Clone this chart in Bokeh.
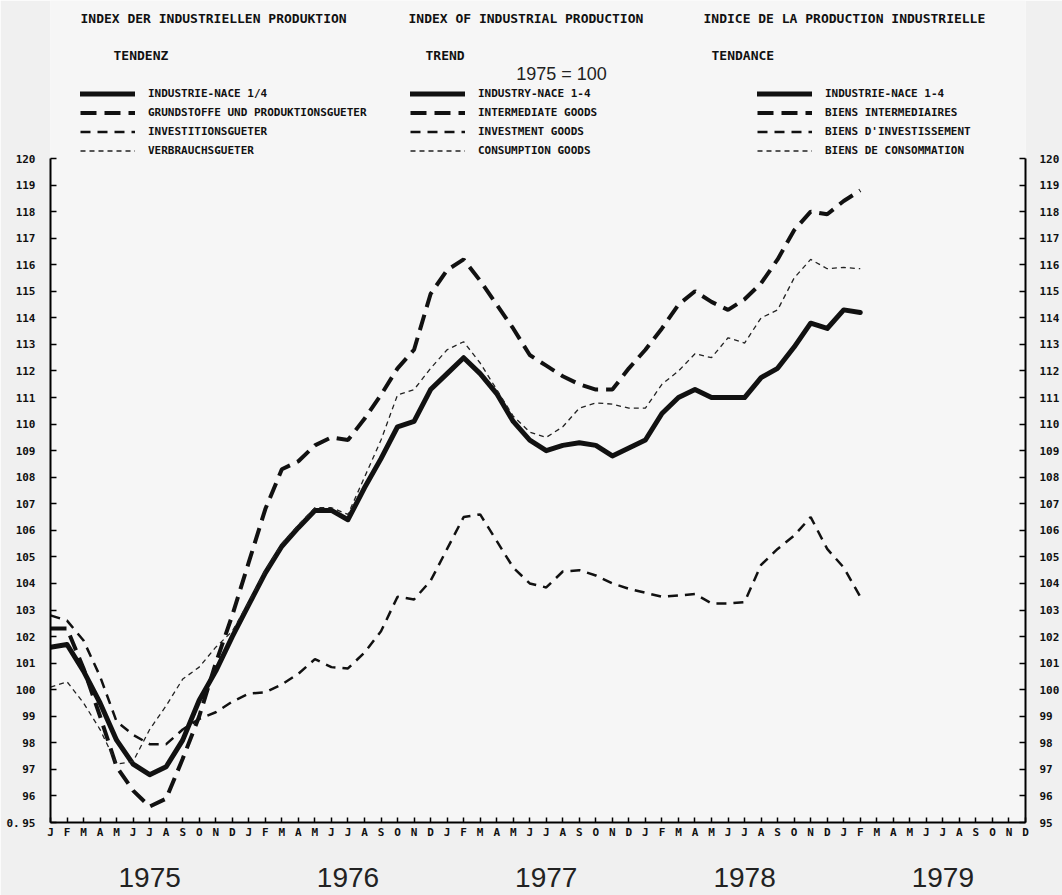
from bokeh.plotting import figure
from bokeh.models import FixedTicker, LinearAxis, Range1d, Legend, LegendItem, Label
from bokeh.embed import file_html
from bokeh.resources import INLINE

# ---------------- data ----------------
months = ["J", "F", "M", "A", "M", "J", "J", "A", "S", "O", "N", "D"]
years = ["1975", "1976", "1977", "1978", "1979"]
y_ticks = list(range(95, 121))

# monthly trend indices, Jan 1975 .. Feb 1979 (1975 = 100)
total = [101.6, 101.7, 100.7, 99.5, 98.1, 97.2, 96.8, 97.1, 98.1, 99.6, 100.7, 102.0,
         103.2, 104.4, 105.4, 106.1, 106.75, 106.75, 106.4, 107.6, 108.7, 109.9, 110.1, 111.3,
         111.9, 112.5, 111.9, 111.15, 110.1, 109.4, 109.0, 109.2, 109.3, 109.2, 108.8, 109.1,
         109.4, 110.4, 111.0, 111.3, 111.0, 111.0, 111.0, 111.75, 112.1, 112.9, 113.8, 113.6,
         114.3, 114.2]
intermediate = [102.3, 102.3, 100.8, 99.0, 97.1, 96.2, 95.6, 95.9, 97.4, 99.0, 101.0, 102.8,
                104.8, 106.8, 108.3, 108.6, 109.2, 109.5, 109.4, 110.2, 111.1, 112.1, 112.8, 114.9,
                115.8, 116.2, 115.4, 114.5, 113.6, 112.6, 112.2, 111.8, 111.5, 111.3, 111.3, 112.1,
                112.8, 113.6, 114.5, 115.0, 114.6, 114.3, 114.7, 115.3, 116.2, 117.3, 118.0, 117.9,
                118.4, 118.8]
investment = [102.8, 102.6, 101.85, 100.5, 98.8, 98.3, 97.95, 97.95, 98.5, 98.9, 99.15, 99.55,
              99.85, 99.9, 100.2, 100.6, 101.15, 100.85, 100.8, 101.4, 102.2, 103.5, 103.4, 104.1,
              105.3, 106.5, 106.6, 105.6, 104.6, 104.0, 103.85, 104.45, 104.5, 104.3, 104.0, 103.8,
              103.65, 103.5, 103.55, 103.6, 103.25, 103.25, 103.3, 104.7, 105.3, 105.8, 106.5, 105.3,
              104.6, 103.5]
consumption = [100.1, 100.3, 99.5, 98.5, 97.2, 97.3, 98.5, 99.4, 100.4, 100.85, 101.6, 102.2,
               103.3, 104.5, 105.5, 106.2, 106.85, 106.85, 106.6, 108.0, 109.4, 111.1, 111.3, 112.1,
               112.8, 113.1, 112.3, 111.3, 110.3, 109.7, 109.5, 109.9, 110.6, 110.8, 110.75, 110.6,
               110.6, 111.5, 112.0, 112.65, 112.5, 113.25, 113.05, 114.0, 114.3, 115.5, 116.2, 115.85,
               115.9, 115.85]
x = list(range(len(total)))

labels_de = ["INDUSTRIE-NACE 1/4", "GRUNDSTOFFE UND PRODUKTIONSGUETER",
             "INVESTITIONSGUETER", "VERBRAUCHSGUETER"]
labels_en = ["INDUSTRY-NACE 1-4", "INTERMEDIATE GOODS", "INVESTMENT GOODS", "CONSUMPTION GOODS"]
labels_fr = ["INDUSTRIE-NACE 1-4", "BIENS INTERMEDIAIRES", "BIENS D'INVESTISSEMENT",
             "BIENS DE CONSOMMATION"]

# ---------------- figure ----------------
W, H = 1062, 895
FRAME_L, FRAME_R, FRAME_B = 50, 37, 73
frame_h = H - FRAME_B
px_per_unit = 26.56
n_months = len(months) * len(years)

p = figure(width=W, height=H, output_backend="svg", toolbar_location=None,
           x_range=Range1d(0, n_months - 1),
           y_range=Range1d(95, 95 + frame_h / px_per_unit),
           x_axis_type=None, y_axis_type=None,
           min_border_left=FRAME_L, min_border_right=FRAME_R,
           min_border_top=0, min_border_bottom=FRAME_B)
p.outline_line_color = None
p.background_fill_color = "#f6f6f6"
p.border_fill_color = "#f0f0f0"

MONO = "DejaVu Sans Mono"

# bottom month axis
xax = LinearAxis(ticker=FixedTicker(ticks=list(range(n_months))),
                 major_label_overrides={i: months[i % 12] for i in range(n_months)},
                 bounds=(0, n_months - 1))
xax.major_tick_in = 5
xax.major_tick_out = 0
xax.minor_tick_line_color = None
xax.axis_line_width = 2
xax.major_tick_line_width = 1.5
xax.major_label_standoff = 3
xax.major_label_text_font = MONO
xax.major_label_text_font_style = "bold"
xax.major_label_text_font_size = "11px"
xax.major_label_text_color = "#111111"
p.add_layout(xax, "below")

# year axis under the months (one label per year, centred on July)
yax = LinearAxis(ticker=FixedTicker(ticks=[6 + 12 * k for k in range(len(years))]),
                 major_label_overrides={6 + 12 * k: yr for k, yr in enumerate(years)})
yax.axis_line_color = None
yax.major_tick_line_color = None
yax.minor_tick_line_color = None
yax.major_label_standoff = 20
yax.major_label_text_font = "Liberation Sans"
yax.major_label_text_font_size = "28px"
yax.major_label_text_color = "#222222"
p.add_layout(yax, "below")

for side, standoff in (("left", 15), ("right", 14)):
    ax = LinearAxis(ticker=FixedTicker(ticks=y_ticks), bounds=(95, 120))
    ax.major_tick_in = 6
    ax.major_tick_out = 0
    ax.minor_tick_line_color = None
    ax.axis_line_width = 2
    ax.major_tick_line_width = 1.5
    ax.major_label_standoff = standoff
    ax.major_label_text_font = MONO
    ax.major_label_text_font_style = "bold"
    ax.major_label_text_font_size = "11px"
    ax.major_label_text_color = "#111111"
    if side == "left":
        ax.axis_label = "0."
        ax.axis_label_orientation = "horizontal"
        ax.axis_label_align = "start"
        ax.axis_label_standoff = -7
        ax.axis_label_text_font = MONO
        ax.axis_label_text_font_style = "bold"
        ax.axis_label_text_font_size = "11px"
        ax.axis_label_text_color = "#111111"
    p.add_layout(ax, side)

# ---------------- series ----------------
r_total = p.line(x, total, line_color="#111111", line_width=5, line_join="round", line_cap="round")
r_inter = p.line(x, intermediate, line_color="#111111", line_width=4, line_dash="16 8")
r_inv = p.line(x, investment, line_color="#111111", line_width=2.5, line_dash="10 7")
r_cons = p.line(x, consumption, line_color="#222222", line_width=1.3, line_dash="5 4")
rends = [r_total, r_inter, r_inv, r_cons]


# helpers converting reference-page pixels into chart units (annotations only)
def ux(page_x):
    return (page_x - FRAME_L) / ((W - FRAME_L - FRAME_R) / (n_months - 1))


def uy(page_y):
    return 95 + (frame_h - page_y) / px_per_unit


def add_legend(labels, left):
    items = [LegendItem(label=t, renderers=[r]) for t, r in zip(labels, rends)]
    lg = Legend(items=items, location=(left, 664), orientation="vertical",
                glyph_width=55, glyph_height=15, label_height=15, spacing=4,
                padding=0, margin=0, label_standoff=13,
                border_line_color=None, background_fill_alpha=0,
                label_text_font=MONO, label_text_font_style="bold",
                label_text_font_size="11px", label_text_color="#111111")
    p.add_layout(lg)


add_legend(labels_de, 30)
add_legend(labels_en, 360)
add_legend(labels_fr, 707)

titles = [("INDEX DER INDUSTRIELLEN PRODUKTION", 80, 18),
          ("INDEX OF INDUSTRIAL PRODUCTION", 408, 18),
          ("INDICE DE LA PRODUCTION INDUSTRIELLE", 703, 18),
          ("TENDENZ", 113, 55), ("TREND", 425, 55), ("TENDANCE", 711, 55)]
for t, px, py in titles:
    p.add_layout(Label(x=ux(px), y=uy(py), text=t, text_font=MONO, text_font_style="bold",
                       text_font_size="13px", text_baseline="middle", text_color="#111111"))

p.add_layout(Label(x=ux(561), y=uy(73), text="1975 = 100", text_font="Liberation Sans",
                   text_font_size="18px", text_align="center", text_baseline="middle",
                   text_color="#222222"))

open("out.html", "w").write(file_html(p, INLINE))
